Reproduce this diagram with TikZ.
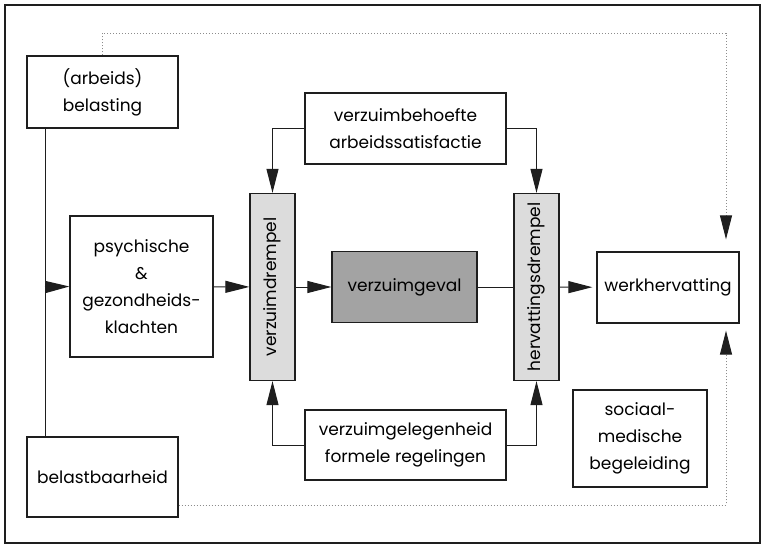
\documentclass[tikz,border=0pt]{standalone}
\usepackage{fontspec}
\setmainfont{Poppins}
\usepackage{tikz}
\usetikzlibrary{arrows.meta,calc,positioning}
\definecolor{Ink}{HTML}{1E1E1E}
\definecolor{Dots}{HTML}{8C8C8C}
\definecolor{Light}{HTML}{DCDCDC}
\definecolor{Shade}{HTML}{A3A3A3}

\begin{document}
\begin{tikzpicture}[
  x=1pt,y=-1pt,
  font=\fontsize{17}{27}\selectfont,
  box/.style={
    draw=Ink,fill=white,line width=1.3pt,align=center,inner sep=0pt
  },
  drempel/.style={box,fill=Light,minimum width=45pt,minimum height=187pt},
  geval/.style={box,fill=Shade},
  arr/.style={-{Triangle[length=24pt,width=12pt,color=Ink]},draw=Ink,line width=1pt},
  dots/.style={draw=Dots,dotted,line width=0.9pt}
]
  \useasboundingbox (0,0) rectangle (763,546);
  \draw[Ink,line width=1.8pt] (5,5) rectangle (760,543);

  \node[box,minimum width=151pt,minimum height=72pt] (belast) at (102.5,92) {(arbeids)\\belasting};
  \node[box,minimum width=151pt,minimum height=80pt] (baar) at (102.5,477) {belastbaarheid};
  \node[box,minimum width=143pt,minimum height=141pt] (psych) at (141.5,286.5) {psychische\\\&\\gezondheids-\\klachten};
  \node[drempel] (vdrempel) at (272.5,287) {\rotatebox{90}{verzuimdrempel}};
  \node[geval,minimum width=145pt,minimum height=71pt] (geval) at (404.5,287) {verzuimgeval};
  \node[drempel] (hdrempel) at (536.5,287) {\rotatebox{90}{hervattingsdrempel}};
  \node[box,minimum width=142pt,minimum height=71pt] (werk) at (668,287.5) {werkhervatting};
  \node[box,minimum width=201pt,minimum height=71pt] (behoefte) at (405.5,128.5) {verzuimbehoefte\\arbeidssatisfactie};
  \node[box,minimum width=201pt,minimum height=70pt] (gelegenheid) at (405.5,445) {verzuimgelegenheid\\formele regelingen};
  \node[box,minimum width=134pt,minimum height=97pt] (sociaal) at (640,438.5) {sociaal-\\medische\\begeleiding};

  \coordinate (spine) at (45,287);
  \coordinate (topc) at (726,33);
  \coordinate (botc) at (726,505);

  \draw[draw=Ink,line width=1pt] (belast.south -| spine) -- (baar.north -| spine);
  \draw[arr] (spine) -- (psych.west);
  \draw[arr] (psych) -- (vdrempel);
  \draw[arr] (vdrempel) -- (geval);
  \draw[draw=Ink,line width=1pt] (geval) -- (hdrempel);
  \draw[arr,shorten >=4pt] (hdrempel) -- (werk);
  \draw[arr] (behoefte.west) -| (vdrempel.north);
  \draw[arr] (behoefte.east) -| (hdrempel.north);
  \draw[arr] (gelegenheid.west) -| (vdrempel.south);
  \draw[arr] (gelegenheid.east) -| (hdrempel.south);
  \draw[dots,arr,draw=Dots,shorten >=12pt] (belast.north) |- (topc) -- (werk.north -| topc);
  \draw[dots,arr,draw=Dots,shorten >=7pt] (baar.east |- botc) -- (botc) -- (werk.south -| topc);
\end{tikzpicture}
\end{document}
